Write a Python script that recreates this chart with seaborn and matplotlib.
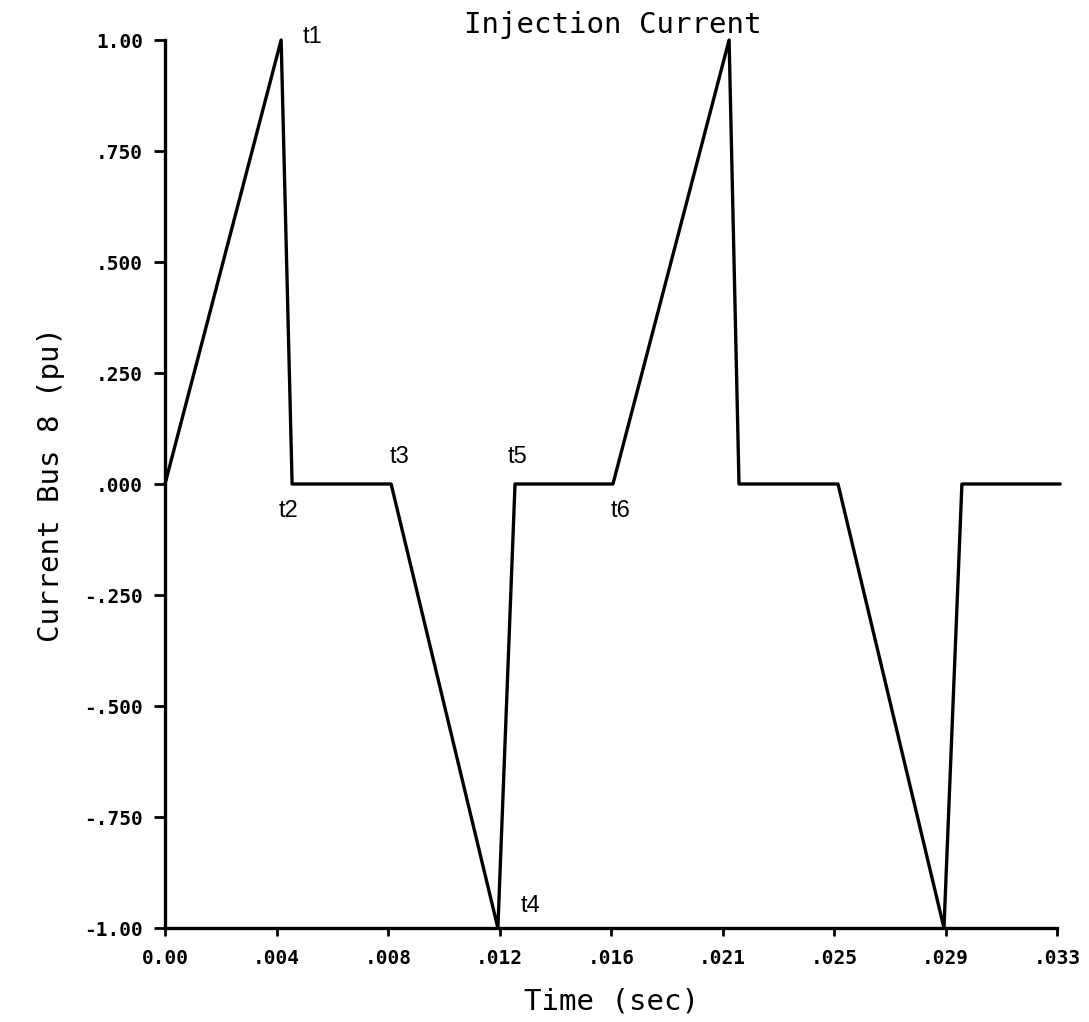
import matplotlib
matplotlib.use("Agg")
import matplotlib.pyplot as plt
import seaborn as sns
import pandas as pd

# ---- data ----
time_s = [0.0, 0.00434, 0.00475, 0.00845, 0.01244, 0.01308, 0.01674,
          0.02108, 0.02145, 0.02515, 0.02911, 0.02978, 0.03345]
current_pu = [0.0, 1.0, 0.0, 0.0, -1.0, 0.0, 0.0, 1.0, 0.0, 0.0, -1.0, 0.0, 0.0]

x_ticks = [k / 240 for k in range(9)]
x_tick_labels = ["0.00", ".004", ".008", ".012", ".016", ".021", ".025", ".029", ".033"]
y_ticks = [1.0, 0.75, 0.5, 0.25, 0.0, -0.25, -0.5, -0.75, -1.0]
y_tick_labels = ["1.00", ".750", ".500", ".250", ".000", "-.250", "-.500", "-.750", "-1.00"]

point_names = ["t1", "t2", "t3", "t5", "t6", "t4"]
point_x = [0.00553, 0.00460, 0.00878, 0.01319, 0.01704, 0.01364]
point_y = [1.007, -0.061, 0.061, 0.061, -0.061, -0.950]

df = pd.DataFrame({"Time": time_s, "Current": current_pu})

sns.set_theme(style="ticks")
plt.rcParams["font.family"] = ["DejaVu Sans Mono", "DejaVu Sans"]
plt.rcParams["text.color"] = "black"
plt.rcParams["axes.labelcolor"] = "black"

fig = plt.figure(figsize=(10.89, 10.22), dpi=100)
ax = fig.add_axes([165 / 1089, 94 / 1022, 892 / 1089, 888 / 1022])

sns.lineplot(data=df, x="Time", y="Current", sort=False, estimator=None,
             color="black", linewidth=2.4, ax=ax, clip_on=False)

ax.set_xlim(0, 1 / 30)
ax.set_ylim(-1, 1)
ax.set_xticks(x_ticks)
ax.set_xticklabels(x_tick_labels, fontsize=14, fontweight="bold")
ax.set_yticks(y_ticks)
ax.set_yticklabels(y_tick_labels, fontsize=14, fontweight="bold")
ax.tick_params(axis="x", direction="out", length=6, width=2, pad=9, colors="black")
ax.tick_params(axis="y", direction="out", length=8, width=2, pad=8, colors="black")

for side in ["top", "right"]:
    ax.spines[side].set_visible(False)
for side in ["left", "bottom"]:
    ax.spines[side].set_linewidth(2.4)
    ax.spines[side].set_color("black")

ax.set_xlabel("Time (sec)", fontsize=21, labelpad=14, color="black")
ax.set_ylabel("Current Bus 8 (pu)", fontsize=21, labelpad=14, color="black")

for name, px, py in zip(point_names, point_x, point_y):
    ax.text(px, py, name, fontsize=17, family=["Liberation Sans", "DejaVu Sans"],
            ha="center", va="center", color="black")

fig.text(613 / 1089, 1 - 33 / 1022, "Injection Current", fontsize=21,
         ha="center", va="baseline", color="black")

fig.savefig("out.png", dpi=100, facecolor="white")
